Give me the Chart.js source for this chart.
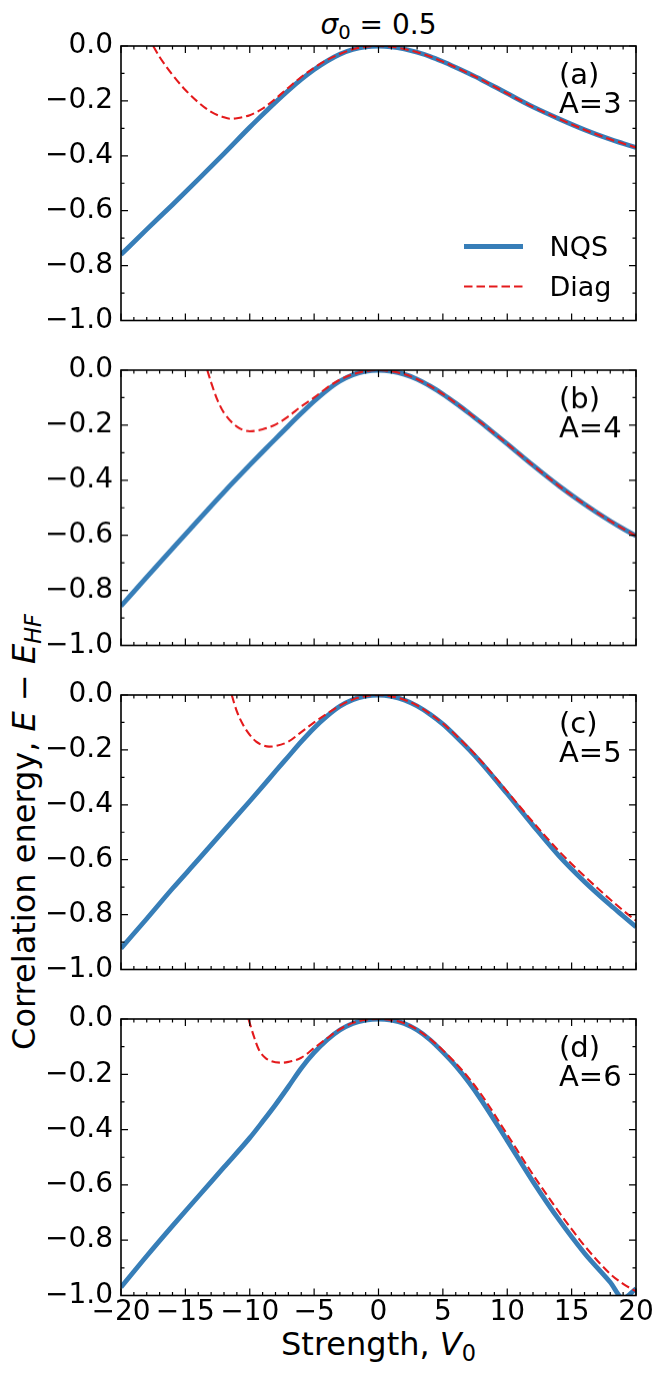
<!DOCTYPE html>
<html>
<head>
<meta charset="utf-8">
<script src="https://cdn.jsdelivr.net/npm/chart.js@4.4.0/dist/chart.umd.min.js"></script>
<style>
  body { margin:0; background:#fff; width:664px; height:1374px; position:relative; overflow:hidden; font-family:"DejaVu Sans", sans-serif; color:#000; }
  .panel { position:absolute; left:0; width:664px; }
  .txt { position:absolute; white-space:nowrap; line-height:1; }
  .sub { font-size:0.7em; vertical-align:-0.25em; line-height:0; }
</style>
</head>
<body>
<div class="txt" style="left:121px;width:515px;top:11px;text-align:center;font-size:28px;"><i>σ</i><span class="sub">0</span> = 0.5</div>
<div class="txt" style="left:121px;width:515px;top:1328px;text-align:center;font-size:32px;">Strength, <i>V</i><span class="sub">0</span></div>
<div class="txt" style="left:24px;top:832px;font-size:32px;transform:translate(-50%,-50%) rotate(-90deg);">Correlation energy, <i>E</i> − <i>E</i><span class="sub"><i>HF</i></span></div>

<div class="panel" id="pa"><canvas id="ca"></canvas></div>
<div class="panel" id="pb"><canvas id="cb"></canvas></div>
<div class="panel" id="pc"><canvas id="cc"></canvas></div>
<div class="panel" id="pd"><canvas id="cd"></canvas></div>

<script>
// === DADOS ===
const V0 = [-20,-18,-16,-14,-12,-10,-9,-8,-7,-6,-5,-4,-3,-2,-1,0,1,2,3,4,5,6,7,8,10,12,14,16,18,19,20];

const nqsA = [-0.76,-0.668,-0.578,-0.486,-0.392,-0.296,-0.25,-0.205,-0.162,-0.122,-0.086,-0.055,-0.03,-0.013,-0.003,0,-0.003,-0.011,-0.023,-0.038,-0.057,-0.078,-0.1,-0.123,-0.173,-0.222,-0.265,-0.305,-0.34,-0.355,-0.37];
const nqsB = [-0.857,-0.752,-0.648,-0.545,-0.443,-0.345,-0.297,-0.25,-0.203,-0.157,-0.113,-0.073,-0.04,-0.017,-0.004,0,-0.004,-0.015,-0.033,-0.058,-0.087,-0.12,-0.155,-0.192,-0.268,-0.346,-0.42,-0.487,-0.548,-0.576,-0.602];
const nqsC = [-0.923,-0.815,-0.705,-0.6,-0.493,-0.387,-0.333,-0.278,-0.224,-0.17,-0.12,-0.077,-0.041,-0.017,-0.004,0,-0.005,-0.018,-0.04,-0.07,-0.106,-0.15,-0.197,-0.248,-0.36,-0.475,-0.585,-0.68,-0.765,-0.805,-0.845];
const nqsD = [-0.97,-0.857,-0.748,-0.642,-0.536,-0.43,-0.371,-0.31,-0.245,-0.178,-0.122,-0.076,-0.04,-0.016,-0.004,0,-0.004,-0.016,-0.04,-0.075,-0.12,-0.17,-0.228,-0.294,-0.44,-0.588,-0.725,-0.847,-0.952,-1.01,-0.975];

const diagAx = [-17.5,-17,-16,-15,-14,-13,-12,-11.5,-11,-10,-9,-8,-7,-6,-5,-4,-3,-2,-1,0,1,2,3,4,5,6,7,8,10,12,14,16,18,19,20];
const diagA  = [0,-0.04,-0.105,-0.16,-0.205,-0.24,-0.26,-0.265,-0.263,-0.252,-0.228,-0.192,-0.152,-0.113,-0.079,-0.051,-0.029,-0.012,-0.003,0,-0.003,-0.011,-0.023,-0.038,-0.057,-0.078,-0.1,-0.123,-0.173,-0.222,-0.265,-0.305,-0.34,-0.355,-0.37];

const diagBx = [-13.3,-13,-12.5,-12,-11,-10,-9,-8,-7,-6,-5,-4,-3,-2,-1,0,1,2,3,4,5,6,7,8,10,12,14,16,18,19,20];
const diagB  = [0,-0.045,-0.11,-0.155,-0.205,-0.222,-0.215,-0.198,-0.168,-0.132,-0.1,-0.064,-0.035,-0.015,-0.004,0,-0.004,-0.015,-0.033,-0.058,-0.087,-0.12,-0.155,-0.192,-0.268,-0.346,-0.42,-0.487,-0.548,-0.576,-0.602];

const diagCx = [-11.4,-11,-10.5,-10,-9.5,-9,-8.5,-8,-7,-6,-5,-4,-3,-2,-1,0,1,2,3,4,5,6,7,8,10,12,14,16,18,19,20];
const diagC  = [0,-0.06,-0.11,-0.145,-0.17,-0.183,-0.188,-0.186,-0.17,-0.135,-0.1,-0.068,-0.039,-0.016,-0.004,0,-0.005,-0.017,-0.038,-0.068,-0.104,-0.146,-0.192,-0.242,-0.352,-0.463,-0.568,-0.66,-0.745,-0.785,-0.822];

const diagDx = [-10.1,-9.7,-9.3,-8.8,-8.3,-7.5,-7,-6,-5,-4,-3,-2,-1,0,1,2,3,4,5,6,7,8,10,12,14,15,16,18,19,20];
const diagD  = [0,-0.06,-0.11,-0.14,-0.153,-0.158,-0.155,-0.14,-0.105,-0.07,-0.037,-0.014,-0.003,0,-0.004,-0.015,-0.038,-0.072,-0.113,-0.16,-0.213,-0.274,-0.418,-0.563,-0.697,-0.76,-0.82,-0.922,-0.958,-0.985];

const tags   = ['(a)','(b)','(c)','(d)'];
const labels = ['A=3','A=4','A=5','A=6'];
const seriesNames = ['NQS','Diag'];

// === LAYOUT ===
const FONT = '"DejaVu Sans", sans-serif';
const BLUE = '#377eb8', RED = '#e41a1c';
const TOPS = [43.5, 368, 692.5, 1017];
const H = 278.5;
Chart.defaults.font.family = FONT;
Chart.defaults.color = '#000';

const minus = s => s.replace('-', '\u2212');

// ticks para dentro, moldura, rótulos e legenda
const deco = {
  id: 'deco',
  afterDatasetsDraw(chart, args, o) {
    const { ctx, chartArea: a, scales: { x, y } } = chart;
    ctx.save();
    ctx.strokeStyle = '#000';
    ctx.lineWidth = 1.2;
    ctx.beginPath();
    for (let v = -20; v <= 20; v++) {
      const px = x.getPixelForValue(v);
      const len = v % 5 === 0 ? 7 : 3.5;
      ctx.moveTo(px, a.bottom); ctx.lineTo(px, a.bottom - len);
      ctx.moveTo(px, a.top); ctx.lineTo(px, a.top + len);
    }
    for (let k = 0; k <= 10; k++) {
      const py = y.getPixelForValue(-k / 10);
      const len = k % 2 === 0 ? 7 : 3.5;
      ctx.moveTo(a.left, py); ctx.lineTo(a.left + len, py);
      ctx.moveTo(a.right, py); ctx.lineTo(a.right - len, py);
    }
    ctx.stroke();
    ctx.lineWidth = 1.6;
    ctx.strokeRect(a.left, a.top, a.right - a.left, a.bottom - a.top);

    ctx.fillStyle = '#000';
    ctx.textAlign = 'left';
    ctx.textBaseline = 'middle';
    ctx.font = '29px ' + FONT;
    ctx.fillText(o.tag, a.left + 438, a.top + 30);
    ctx.fillText(o.label, a.left + 438, a.top + 59);

    if (o.legend) {
      const ds = chart.data.datasets;
      const rows = [ds[1], ds[0]]; // NQS primeiro, Diag depois
      rows.forEach((d, i) => {
        const ly = a.top + 200.5 + i * 40;
        ctx.beginPath();
        ctx.strokeStyle = d.borderColor;
        ctx.lineWidth = d.borderWidth;
        ctx.setLineDash(d.borderDash || []);
        ctx.moveTo(a.left + 343, ly);
        ctx.lineTo(a.left + 402, ly);
        ctx.stroke();
        ctx.setLineDash([]);
        ctx.font = '27px ' + FONT;
        ctx.fillText(d.label, a.left + 428.5, ly + 2);
      });
    }
    ctx.restore();
  }
};

function makePanel(i, nqs, dx, diag) {
  const last = i === 3;
  const box = document.getElementById(['pa','pb','pc','pd'][i]);
  const top = TOPS[i] - 20;
  box.style.top = top + 'px';
  box.style.height = (last ? 1374 - top : H + 40) + 'px';

  new Chart(box.querySelector('canvas'), {
    type: 'line',
    data: {
      datasets: [
        {
          label: seriesNames[1],
          data: dx.map((v, k) => ({ x: v, y: diag[k] })),
          borderColor: RED, borderWidth: 2.1, borderDash: [8.5, 4],
          pointRadius: 0, cubicInterpolationMode: 'monotone', clip: 0, fill: false
        },
        {
          label: seriesNames[0],
          data: V0.map((v, k) => ({ x: v, y: nqs[k] })),
          borderColor: BLUE, borderWidth: 4.8, borderJoinStyle: 'round',
          pointRadius: 0, cubicInterpolationMode: 'monotone', clip: 0, fill: false
        }
      ]
    },
    options: {
      responsive: true,
      maintainAspectRatio: false,
      animation: false,
      events: [],
      layout: { padding: { left: 0, right: 28, top: 20, bottom: last ? 0 : 20 } },
      plugins: {
        legend: { display: false },
        tooltip: { enabled: false },
        deco: { tag: tags[i], label: labels[i], legend: i === 0 }
      },
      scales: {
        x: {
          type: 'linear', min: -20, max: 20, display: last,
          grid: { display: false, drawTicks: false },
          border: { display: false },
          ticks: {
            stepSize: 5, padding: 3, maxRotation: 0, autoSkip: false,
            color: '#000', font: { size: 28, lineHeight: 1 },
            callback: v => minus(String(v))
          },
          afterFit: s => { s.height = last ? 78.5 : 0; }
        },
        y: {
          min: -1, max: 0,
          grid: { display: false, drawTicks: false },
          border: { display: false },
          ticks: {
            stepSize: 0.2, padding: 8,
            color: '#000', font: { size: 28, lineHeight: 1 },
            callback: v => (v < -1e-9 ? '\u2212' : '') + Math.abs(v).toFixed(1)
          },
          afterFit: s => { s.width = 121; }
        }
      }
    },
    plugins: [deco]
  });
}

makePanel(0, nqsA, diagAx, diagA);
makePanel(1, nqsB, diagBx, diagB);
makePanel(2, nqsC, diagCx, diagC);
makePanel(3, nqsD, diagDx, diagD);
</script>
</body>
</html>
